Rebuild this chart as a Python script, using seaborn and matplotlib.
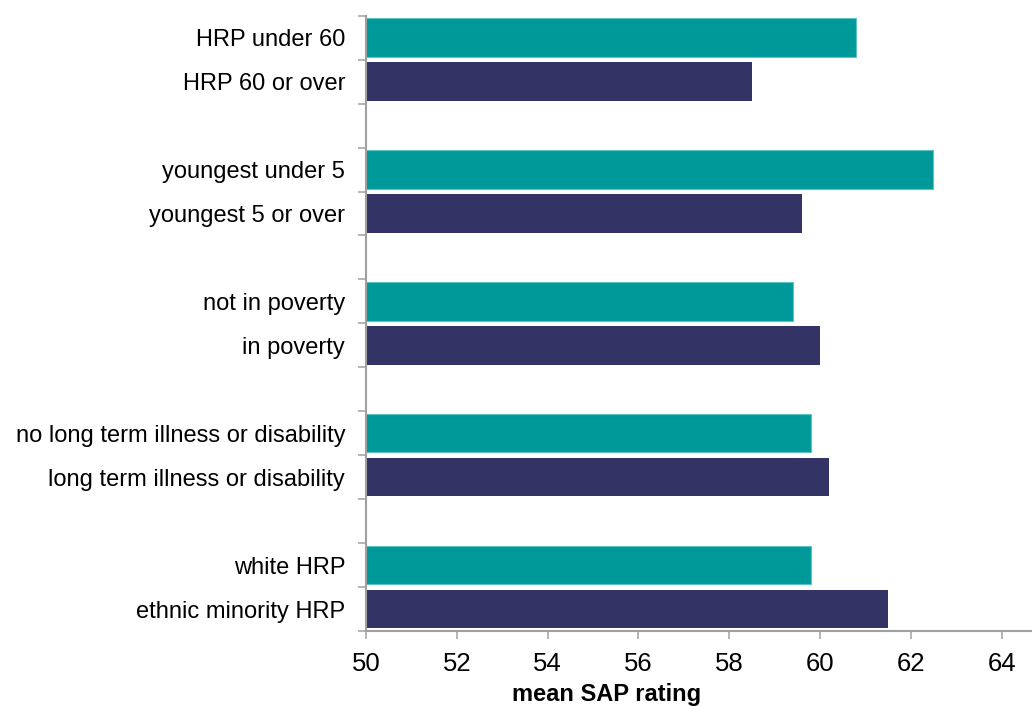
import matplotlib
matplotlib.use("Agg")
import matplotlib.pyplot as plt
import matplotlib.colors as mcolors
import seaborn as sns
import pandas as pd
import numpy as np

# данные с картинки
labels = [
    "HRP under 60", "HRP 60 or over",
    "youngest under 5", "youngest 5 or over",
    "not in poverty", "in poverty",
    "no long term illness or disability", "long term illness or disability",
    "white HRP", "ethnic minority HRP",
]
values = [60.8, 58.5, 62.5, 59.6, 59.4, 60.0, 59.8, 60.2, 59.8, 61.5]
kinds = ["first", "second"] * 5

teal = "#009999"
navy = "#333366"

df = pd.DataFrame({"label": labels, "value": values, "kind": kinds})

# порядок с пустыми строками между группами
order = []
for i in range(0, len(labels), 2):
    order += [labels[i], labels[i + 1]]
    if i + 2 < len(labels):
        order.append(" " * (i // 2 + 1))

sns.set_style("white")
plt.rcParams["font.family"] = ["Liberation Sans", "DejaVu Sans"]
plt.rcParams["font.size"] = 17

fig = plt.figure(figsize=(10.32, 7.06), dpi=100)
ax = fig.add_axes([366 / 1032, 1 - 631 / 706, 1 - 366 / 1032, (631 - 15.7) / 706])

sns.barplot(
    data=df, y="label", x="value", hue="kind", order=order,
    palette={"first": teal, "second": navy}, dodge=False, saturation=1,
    width=0.875, errorbar=None, legend=False, linewidth=0, ax=ax,
)

# светлая обводка у бирюзовых столбцов
for p in ax.patches:
    if np.allclose(p.get_facecolor()[:3], mcolors.to_rgb(teal)):
        p.set_edgecolor("#5cc4c4")
        p.set_linewidth(0.8)

ax.set_xlim(50, 64.67)
ax.set_ylim(len(order) - 0.5, -0.5)
ax.set_xticks(np.arange(50, 65, 2))

pos = [order.index(l) for l in labels]
ax.set_yticks(pos)
ax.set_yticklabels(labels)
ax.set_yticks(np.arange(len(order) + 1) - 0.5, minor=True)
ax.tick_params(axis="y", which="major", length=0, pad=15, labelsize=17, labelcolor="black")
ax.tick_params(axis="y", which="minor", length=6, width=1.1, color="#a0a0a0", left=True)
ax.tick_params(axis="x", which="major", length=6, width=1.1, color="#a0a0a0", pad=9,
               labelsize=18.5, labelcolor="black", bottom=True)

for s in ["top", "right"]:
    ax.spines[s].set_visible(False)
for s in ["left", "bottom"]:
    ax.spines[s].set_color("#a0a0a0")
    ax.spines[s].set_linewidth(1.5)

ax.set_ylabel("")
ax.set_xlabel("mean SAP rating", fontsize=17, fontweight="bold", color="black")
ax.xaxis.set_label_coords((607 - 366) / (1032 - 366), -0.085)

fig.savefig("out.png", dpi=100)
